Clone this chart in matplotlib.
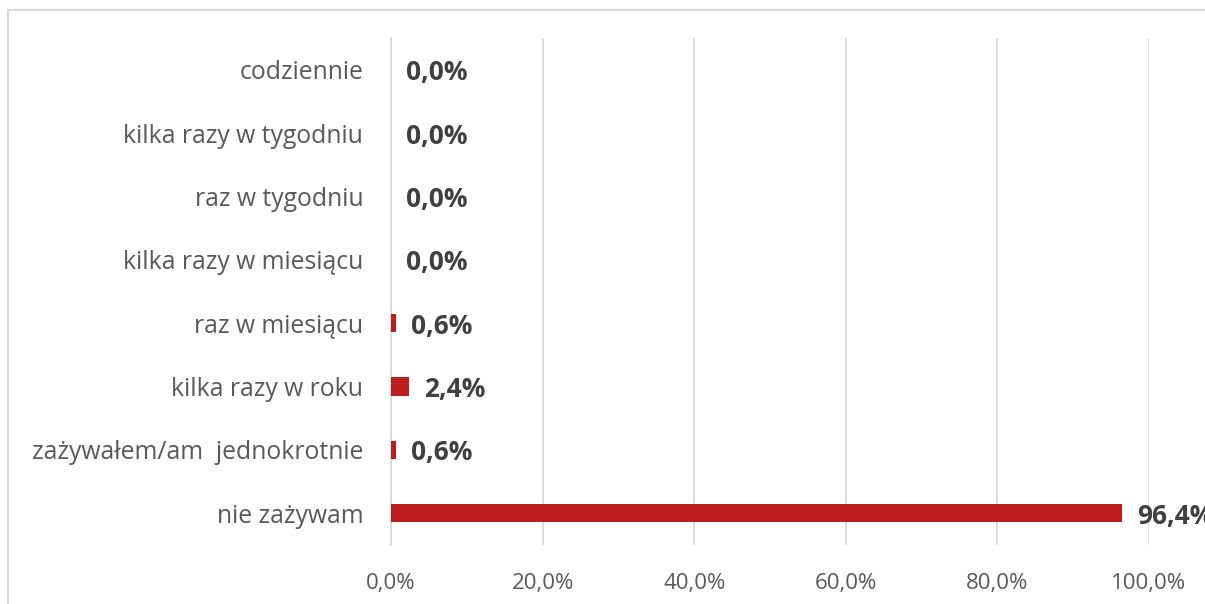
import matplotlib.pyplot as plt
from matplotlib.patches import Rectangle
from matplotlib.ticker import FuncFormatter

categories = ['codziennie', 'kilka razy w tygodniu', 'raz w tygodniu',
              'kilka razy w miesiącu', 'raz w miesiącu', 'kilka razy w roku',
              'zażywałem/am  jednokrotnie', 'nie zażywam']
values = [0.0, 0.0, 0.0, 0.0, 0.6, 2.4, 0.6, 96.4]
xticks = [0, 20, 40, 60, 80, 100]

plt.rcParams['font.family'] = ['Open Sans', 'DejaVu Sans']

fig = plt.figure(figsize=(12.05, 6.04), dpi=100)
ax = fig.add_axes([0.3245, 0.0977, 0.629, 0.8394])

pos = list(range(len(categories)))
ax.barh(pos, values, height=0.29, color='#BE1E1E', zorder=3)
ax.set_yticks(pos)
ax.set_yticklabels(categories, fontsize=17.8, color='#595959')
ax.invert_yaxis()
ax.set_ylim(len(categories) - 0.5, -0.5)

ax.set_xlim(0, 100)
ax.set_xticks(xticks)
ax.xaxis.set_major_formatter(FuncFormatter(lambda v, p: f'{v:.1f}'.replace('.', ',') + '%'))
for lab in ax.get_xticklabels():
    lab.set_fontsize(16)
    lab.set_color('#595959')
ax.tick_params(axis='both', length=0)
ax.tick_params(axis='x', pad=20)
ax.tick_params(axis='y', pad=20)
ax.grid(axis='x', color='#D9D9D9', linewidth=1.3, zorder=0)
for s in ['top', 'right', 'bottom']:
    ax.spines[s].set_visible(False)
ax.spines['left'].set_color('#D9D9D9')
ax.spines['left'].set_linewidth(1.3)

for i, v in enumerate(values):
    txt = f'{v:.1f}'.replace('.', ',') + '%'
    ax.annotate(txt, (v, i), xytext=(15, -3), textcoords='offset pixels',
                ha='left', va='center', fontsize=19, fontweight='bold',
                color='#404040', annotation_clip=False)

fig.patches.append(Rectangle((8 / 1205, -0.1), 1.1, 1.1 - 10 / 604, transform=fig.transFigure,
                             fill=False, edgecolor='#D9D9D9', linewidth=1.5))

plt.savefig('out.png', dpi=100)
